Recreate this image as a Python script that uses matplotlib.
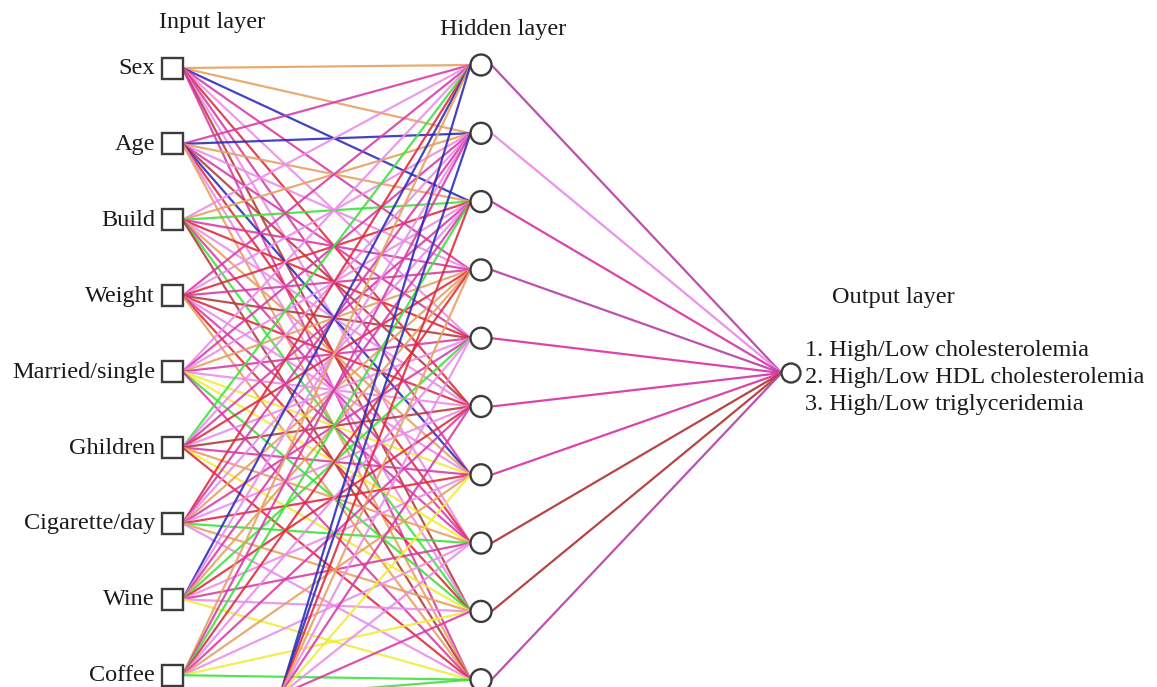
import matplotlib.pyplot as plt
from matplotlib.patches import Rectangle, Circle

# node labels
input_names = ['Sex', 'Age', 'Build', 'Weight', 'Married/single', 'Ghildren',
               'Cigarette/day', 'Wine', 'Coffee']
n_hidden = 10
output_lines = ['1. High/Low cholesterolemia',
                '2. High/Low HDL cholesterolemia',
                '3. High/Low triglyceridemia']

# colour code of each connection (one letter per hidden node)
palette = {
    'v': '#ea8cea',  # violet
    'm': '#d83aa8',  # magenta
    'p': '#b848a8',  # purple-magenta
    'o': '#e6a060',  # orange / tan
    'r': '#e02a3c',  # red
    'd': '#b43a3a',  # dark red
    'g': '#3ee03e',  # green
    'y': '#f0ec3a',  # yellow
    'b': '#2a2ab8',  # blue
}
w_input_hidden = [
    'oobmvrmvdm',  # Sex
    'mbovmdbrvo',  # Age
    'vogmrvomgd',  # Build
    'mvrmdrvmro',  # Weight
    'vmvomvyygm',  # Married/single
    'gvmrvdmoyr',  # Ghildren
    'rmvomvrgov',  # Cigarette/day
    'bvmogrvmvy',  # Wine
    'omgrvmovyg',  # Coffee
]
w_bias_hidden = 'bbrovmyvmg'
w_hidden_output = 'pvmpmmmddp'

# layout in pixels
in_x, in_y0, in_dy, box = 172, 68, 75.9, 21
hid_x, hid_y0, hid_dy, rad = 481, 65, 68.3, 10.5
out_x, out_y, out_rad = 791, 373, 9.5
bias_x, bias_y = 280, 695

fig = plt.figure(figsize=(11.57, 6.87), dpi=100)
ax = fig.add_axes([0, 0, 1, 1])
ax.set_xlim(0, 1157)
ax.set_ylim(687, 0)
ax.axis('off')

font = dict(family='Liberation Serif', size=17.5, color='#1a1a1a')
edge = '#3c3c3c'

in_ys = [in_y0 + i * in_dy for i in range(len(input_names))]
hid_ys = [hid_y0 + j * hid_dy for j in range(n_hidden)]

# input -> hidden connections
for iy, row in zip(in_ys, w_input_hidden):
    for hy, c in zip(hid_ys, row):
        ax.plot([in_x + box / 2, hid_x - rad], [iy, hy], color=palette[c],
                lw=1.6, alpha=0.88, solid_capstyle='round', zorder=1)

# bias (below the visible area) -> hidden
for hy, c in zip(hid_ys, w_bias_hidden):
    ax.plot([bias_x, hid_x - rad], [bias_y, hy], color=palette[c],
            lw=1.6, alpha=0.88, zorder=1)

# hidden -> output
for hy, c in zip(hid_ys, w_hidden_output):
    ax.plot([hid_x + rad, out_x - out_rad], [hy, out_y], color=palette[c],
            lw=1.6, alpha=0.95, zorder=1)

# nodes
for iy, name in zip(in_ys, input_names):
    ax.add_patch(Rectangle((in_x - box / 2, iy - box / 2), box, box,
                           facecolor='white', edgecolor=edge, lw=1.7, zorder=3))
    ax.text(155, iy + 6, name, ha='right', va='baseline', **font)

for hy in hid_ys:
    ax.add_patch(Circle((hid_x, hy), rad, facecolor='white', edgecolor=edge,
                        lw=1.7, zorder=3))

ax.add_patch(Circle((out_x, out_y), out_rad, facecolor='white', edgecolor=edge,
                    lw=1.7, zorder=3))

# layer titles
ax.text(212, 28, 'Input layer', ha='center', va='baseline', **font)
ax.text(503, 35, 'Hidden layer', ha='center', va='baseline', **font)
ax.text(832, 303, 'Output layer', ha='left', va='baseline', **font)
for k, line in enumerate(output_lines):
    ax.text(805, 356 + k * 27, line, ha='left', va='baseline', **font)

fig.savefig('out.png', dpi=100)
